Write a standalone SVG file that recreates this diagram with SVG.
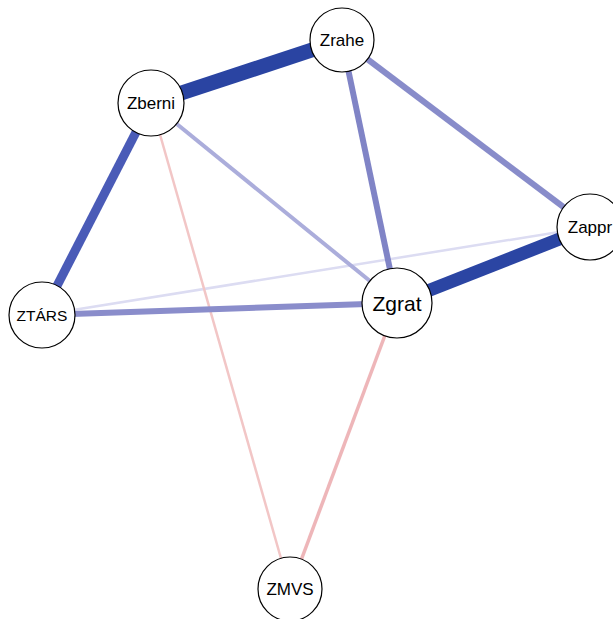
<svg xmlns="http://www.w3.org/2000/svg" width="613" height="619" viewBox="0 0 613 619">
<style>
.node circle{fill:#fff;stroke:#000;stroke-width:1.2}
.node text{font-family:"Liberation Sans",Arial,sans-serif;font-size:17px;text-anchor:middle;dominant-baseline:central;fill:#000}
.edges line{stroke-linecap:butt}
</style>
<rect width="613" height="619" fill="#fff"/>
<g id="edges" class="edges">
<line x1="42" y1="315" x2="590" y2="227" stroke="#dcdcf2" stroke-width="2.5"/>
<line x1="151" y1="103" x2="290" y2="590" stroke="#f2c6c6" stroke-width="2.5"/>
<line x1="397" y1="303" x2="290" y2="590" stroke="#eeb6b9" stroke-width="3.5"/>
<line x1="151" y1="103" x2="397" y2="303" stroke="#abaddb" stroke-width="4"/>
<line x1="42" y1="315" x2="397" y2="303" stroke="#8a8dcb" stroke-width="6"/>
<line x1="342" y1="40" x2="397" y2="303" stroke="#8084c6" stroke-width="6"/>
<line x1="342" y1="40" x2="590" y2="227" stroke="#888cca" stroke-width="6"/>
<line x1="151" y1="103" x2="42" y2="315" stroke="#4a5bb7" stroke-width="9"/>
<line x1="151" y1="103" x2="342" y2="40" stroke="#2a44a2" stroke-width="15"/>
<line x1="397" y1="303" x2="590" y2="227" stroke="#2b45a3" stroke-width="13"/>
</g>
<g id="Zrahe" class="node"><circle cx="342" cy="40" r="32"/><text x="342" y="40">Zrahe</text></g>
<g id="Zberni" class="node"><circle cx="151" cy="103" r="33"/><text x="151" y="103">Zberni</text></g>
<g id="Zappr" class="node"><circle cx="590" cy="227" r="33"/><text x="590" y="227">Zappr</text></g>
<g id="ZTARS" class="node"><circle cx="42" cy="315" r="33"/><text x="42" y="315" style="font-size:15.5px">ZTÁRS</text></g>
<g id="Zgrat" class="node"><circle cx="397" cy="303" r="35"/><text x="397" y="303" style="font-size:21px">Zgrat</text></g>
<g id="ZMVS" class="node"><circle cx="290" cy="589" r="32"/><text x="290" y="589">ZMVS</text></g>
</svg>
